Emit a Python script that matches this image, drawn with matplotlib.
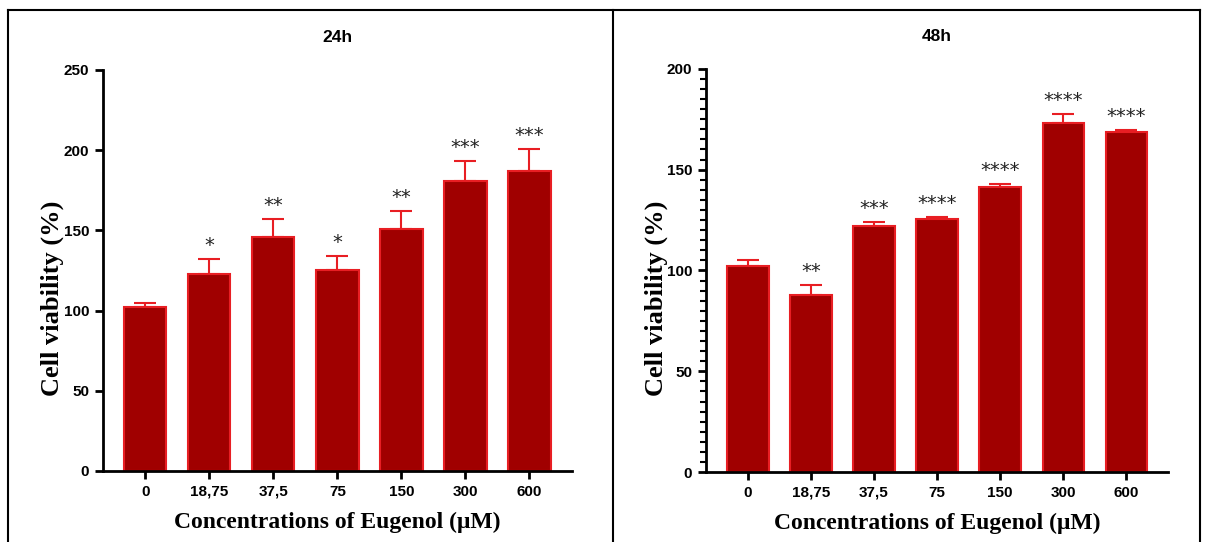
import matplotlib.pyplot as plt
from matplotlib.lines import Line2D
from matplotlib.ticker import MultipleLocator

# data
concentrations = ["0", "18,75", "37,5", "75", "150", "300", "600"]
viability_24h = [102, 123, 146, 125, 151, 181, 187]
sem_24h = [3, 9, 11, 9, 11, 12, 14]
stars_24h = ["", "*", "**", "*", "**", "***", "***"]
viability_48h = [102.3, 88, 122.2, 125.6, 141.4, 173.3, 168.5]
sem_48h = [3, 5, 1.7, 0.9, 1.4, 4.4, 1.2]
stars_48h = ["", "**", "***", "****", "****", "****", "****"]

fill_color = "#a00000"
edge_color = "#e81e23"

fig = plt.figure(figsize=(12.08, 5.42), dpi=100)

panels = [
    ("24h", viability_24h, sem_24h, stars_24h, [0.0853, 0.131, 0.388, 0.74], 250, 50, None),
    ("48h", viability_48h, sem_48h, stars_48h, [0.5845, 0.129, 0.3825, 0.744], 200, 50, 5),
]

for title, vals, errs, stars, rect, ymax, major, minor in panels:
    ax = fig.add_axes(rect)
    x = list(range(len(concentrations)))
    ax.bar(x, vals, width=0.66, color=fill_color, edgecolor=edge_color, linewidth=1.5, zorder=2)
    ax.errorbar(x, vals, yerr=[[0] * len(errs), errs], fmt="none", ecolor=edge_color,
                elinewidth=1.5, capsize=8, capthick=1.5, zorder=1)
    for xi, v, e, s in zip(x, vals, errs, stars):
        if s:
            ax.text(xi, v + e + ymax * 0.01, s, ha="center", va="bottom",
                    fontsize=14, color="#222222", family="DejaVu Sans")
    ax.set_xlim(-0.66, 6.66)
    ax.set_ylim(0, ymax)
    ax.yaxis.set_major_locator(MultipleLocator(major))
    if minor:
        ax.yaxis.set_minor_locator(MultipleLocator(minor))
        ax.tick_params(axis="y", which="minor", length=4, width=1.5)
    ax.set_xticks(x)
    ax.set_xticklabels(concentrations)
    ax.spines["top"].set_visible(False)
    ax.spines["right"].set_visible(False)
    ax.spines["left"].set_linewidth(2)
    ax.spines["bottom"].set_linewidth(2)
    ax.tick_params(axis="both", which="major", length=6, width=2, labelsize=11, pad=4)
    for lab in ax.get_xticklabels() + ax.get_yticklabels():
        lab.set_fontweight("bold")
        lab.set_family("Liberation Sans")
    ax.set_title(title, fontsize=12.5, fontweight="bold", family="Liberation Sans", pad=20)
    ax.set_ylabel("Cell viability (%)", fontsize=19, fontweight="bold",
                  family="Liberation Serif")
    ax.yaxis.set_label_coords(-0.083, 0.43)
    ax.set_xlabel("Concentrations of Eugenol (\u03bcM)", fontsize=17, fontweight="bold",
                  family="Liberation Serif", labelpad=9)

# panel frames
frame = dict(color="black", linewidth=1.5, transform=fig.transFigure)
fig.add_artist(Line2D([0.0066, 0.9935], [0.9815, 0.9815], **frame))
fig.add_artist(Line2D([0.0066, 0.0066], [0.0, 0.9815], **frame))
fig.add_artist(Line2D([0.5075, 0.5075], [0.0, 0.9815], **frame))
fig.add_artist(Line2D([0.9935, 0.9935], [0.0, 0.9815], **frame))

fig.savefig("out.png", dpi=100)
